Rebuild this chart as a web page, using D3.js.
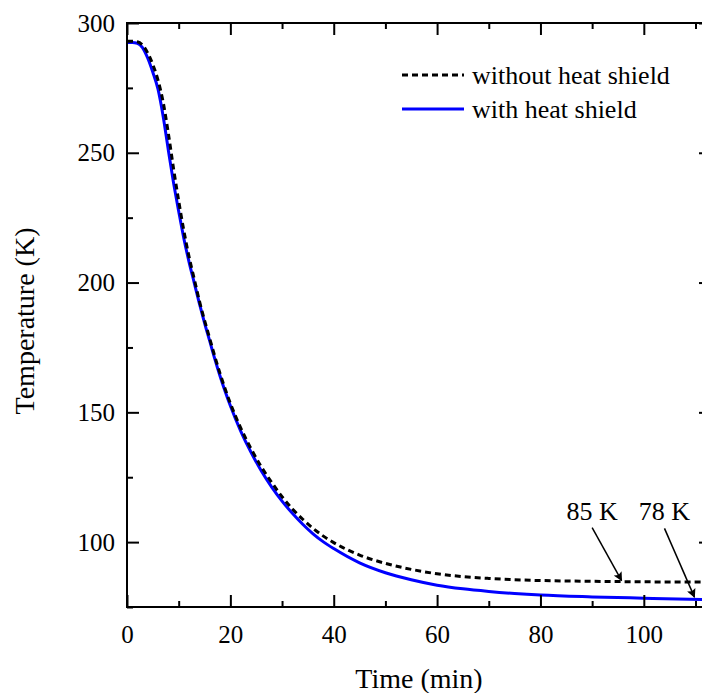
<!DOCTYPE html>
<html>
<head>
<meta charset="utf-8">
<script src="https://cdn.jsdelivr.net/npm/d3@7"></script>
<style>
  body { margin: 0; background: #fff; }
  svg { display: block; font-family: "Liberation Serif", "Times New Roman", serif; }
  svg text { font-family: "Liberation Serif", "Times New Roman", serif; }
</style>
</head>
<body>
<div id="chart"></div>
<script>
// Time (min)
const timeWithout = [0, 1, 2, 3, 4, 5, 6, 7, 8, 9, 10, 11, 12, 13, 14, 15, 16, 17, 18, 19, 20, 22, 24, 26, 28, 30, 32, 34, 36, 38, 40, 45, 50, 55, 60, 65, 70, 75, 80, 90, 100, 113];
const tempWithout = [293, 293, 292.8, 291.5, 288.5, 284, 278, 269.5, 257.5, 244, 231.5, 220, 210, 201.5, 193, 185.5, 178.5, 171.5, 165, 159, 153.5, 144, 136, 129, 123, 117.5, 112.8, 108.8, 105.3, 102.3, 99.8, 95, 91.8, 89.5, 87.8, 86.7, 86, 85.5, 85.2, 84.9, 84.7, 84.6];

const timeWith = [0, 1, 2, 3, 4, 5, 6, 7, 8, 9, 10, 11, 12, 13, 14, 15, 16, 17, 18, 19, 20, 22, 24, 26, 28, 30, 32, 34, 36, 38, 40, 45, 50, 55, 60, 65, 70, 75, 80, 90, 100, 113];
const tempWith = [292.5, 292.5, 292.2, 290.5, 286.5, 281, 274.5, 264, 251, 238.5, 227.5, 217, 208, 200, 192, 184.5, 177.5, 170.5, 164, 158, 152.5, 142.8, 134.6, 127.4, 121.2, 115.8, 111.1, 106.9, 103.2, 100.1, 97.5, 92, 88.2, 85.5, 83.4, 82, 81, 80.2, 79.6, 78.9, 78.4, 77.8];

const xTicks = [0, 20, 40, 60, 80, 100];
const yTicks = [100, 150, 200, 250, 300];

// annotations: label, label anchor (t, T), arrow tip (t, T)
const notes = [
  { label: "85 K", t0: 90, T0: 105.6, t1: 95.7, T1: 85.2 },
  { label: "78 K", t0: 104, T0: 105.3, t1: 109.8, T1: 78.8 }
];

const W = 702, H = 693;
const margin = { top: 23, right: -9, bottom: 86, left: 127 };
const width = W - margin.left - margin.right;
const height = H - margin.top - margin.bottom;
const serif = '"Liberation Serif", "Times New Roman", serif';

const svg = d3.select("#chart").append("svg")
  .attr("width", W).attr("height", H);

const defs = svg.append("defs");
defs.append("marker")
  .attr("id", "arrow")
  .attr("viewBox", "0 0 10 10")
  .attr("refX", 9).attr("refY", 5)
  .attr("markerWidth", 11).attr("markerHeight", 9)
  .attr("markerUnits", "userSpaceOnUse")
  .attr("orient", "auto")
  .append("path").attr("d", "M0,0L10,5L0,10L2,5z").attr("fill", "#000");
defs.append("clipPath").attr("id", "clip")
  .append("rect").attr("width", width).attr("height", height);

const g = svg.append("g").attr("transform", `translate(${margin.left},${margin.top})`);

const x = d3.scaleLinear().domain([0, 113]).range([0, width]);
const y = d3.scaleLinear().domain([75, 300]).range([height, 0]);

const minorX = d3.range(10, 113, 20);
const minorY = d3.range(75, 300, 50);

// curves
const line = d3.line().curve(d3.curveMonotoneX).x(d => x(d[0])).y(d => y(d[1]));
const plot = g.append("g").attr("clip-path", "url(#clip)");
plot.append("path")
  .datum(d3.zip(timeWith, tempWith))
  .attr("fill", "none").attr("stroke", "#0000ff").attr("stroke-width", 3)
  .attr("d", line);
plot.append("path")
  .datum(d3.zip(timeWithout, tempWithout))
  .attr("fill", "none").attr("stroke", "#000").attr("stroke-width", 3)
  .attr("stroke-dasharray", "6,4")
  .attr("d", line);

// axes
function styleAxis(sel) {
  sel.attr("font-family", serif).attr("font-size", null);
  sel.select(".domain").remove();
  sel.selectAll("line").attr("stroke", "#000").attr("stroke-width", 2);
  sel.selectAll("text").attr("fill", "#000")
    .style("font-family", serif)
    .style("font-size", "25px");
}

g.append("g").attr("transform", `translate(0,${height})`)
  .call(d3.axisBottom(x).tickValues(xTicks).tickSizeInner(-12).tickSizeOuter(0).tickPadding(18))
  .call(styleAxis);
g.append("g").attr("transform", `translate(0,${height})`)
  .call(d3.axisBottom(x).tickValues(minorX).tickSize(-6).tickFormat(""))
  .call(styleAxis);
g.append("g")
  .call(d3.axisTop(x).tickValues(xTicks).tickSize(-12).tickFormat(""))
  .call(styleAxis);
g.append("g")
  .call(d3.axisTop(x).tickValues(minorX).tickSize(-6).tickFormat(""))
  .call(styleAxis);

g.append("g")
  .call(d3.axisLeft(y).tickValues(yTicks).tickSize(-12).tickPadding(12))
  .call(styleAxis);
g.append("g")
  .call(d3.axisLeft(y).tickValues(minorY).tickSize(-6).tickFormat(""))
  .call(styleAxis);
g.append("g").attr("transform", `translate(${width},0)`)
  .call(d3.axisRight(y).tickValues(yTicks).tickSize(-12).tickFormat(""))
  .call(styleAxis);
g.append("g").attr("transform", `translate(${width},0)`)
  .call(d3.axisRight(y).tickValues(minorY).tickSize(-6).tickFormat(""))
  .call(styleAxis);

// frame
g.append("rect")
  .attr("width", width).attr("height", height)
  .attr("fill", "none").attr("stroke", "#000").attr("stroke-width", 2);

// annotations
notes.forEach(n => {
  g.append("text")
    .attr("x", x(n.t0)).attr("y", y(n.T0) - 8)
    .attr("text-anchor", "middle")
    .style("font-size", "26px")
    .text(n.label);
  g.append("line")
    .attr("x1", x(n.t0)).attr("y1", y(n.T0))
    .attr("x2", x(n.t1)).attr("y2", y(n.T1))
    .attr("stroke", "#000").attr("stroke-width", 1.5)
    .attr("marker-end", "url(#arrow)");
});

// legend
const legendItems = [
  { label: "without heat shield", color: "#000", dash: "6,4" },
  { label: "with heat shield", color: "#0000ff", dash: null }
];
const legend = svg.append("g").attr("transform", "translate(402,75)");
legendItems.forEach((d, i) => {
  const row = legend.append("g").attr("transform", `translate(0,${i * 34})`);
  row.append("line")
    .attr("x1", 0).attr("x2", 62)
    .attr("stroke", d.color).attr("stroke-width", 3)
    .attr("stroke-dasharray", d.dash);
  row.append("text")
    .attr("x", 70).attr("y", 9)
    .style("font-size", "26px")
    .text(d.label);
});

// axis titles
svg.append("text")
  .attr("x", margin.left + x(56.5)).attr("y", 688)
  .attr("text-anchor", "middle")
  .style("font-size", "28px")
  .text("Time (min)");
svg.append("text")
  .attr("transform", "translate(34,321) rotate(-90)")
  .attr("text-anchor", "middle")
  .style("font-size", "28px")
  .text("Temperature (K)");
</script>
</body>
</html>
